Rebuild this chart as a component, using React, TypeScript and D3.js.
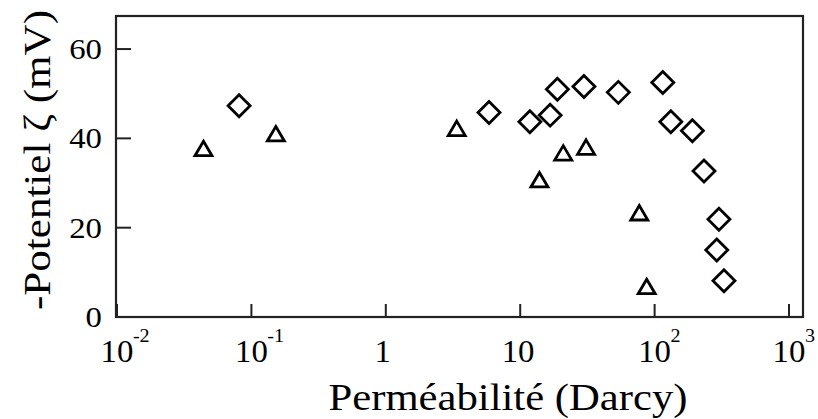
import React from 'react';
import * as d3 from 'd3';

// permeability (Darcy) / -zeta potential (mV)
const triangleX = [0.044, 0.152, 3.37, 13.9, 20.9, 30.9, 76.9, 87.3];
const triangleY = [37.8, 41.1, 42.3, 30.8, 36.8, 38.1, 23.4, 6.9];
const diamondX = [0.081, 5.86, 11.8, 16.7, 18.9, 29.8, 53.7, 115, 132, 191, 233, 290, 301, 328];
const diamondY = [47.3, 45.8, 43.7, 45.2, 51.0, 51.6, 50.3, 52.5, 43.7, 41.7, 32.7, 15.0, 21.9, 8.1];

const xTickExp = [-2, -1, 0, 1, 2, 3];
const yTicks = [0, 20, 40, 60];

const W = 818;
const H = 419;
const font = "'Liberation Serif', 'Times New Roman', Times, serif";

const App: React.FC = () => {
  const x = d3.scaleLog().domain([10 ** -2.0074, 10 ** 3.104]).range([116, 803]);
  const y = d3.scaleLinear().domain([0, 67.4]).range([317, 16]);
  const [x0, x1] = x.range();
  const [y0, y1] = y.range();

  const diamond = 'M0,-11L11,0L0,11L-11,0Z';
  const triangle = 'M0,-7L8.5,7.5L-8.5,7.5Z';

  return (
    <svg width={W} height={H} style={{ position: 'absolute', left: 0, top: 0, background: '#fff', fontFamily: font }}>
      <rect x={x0} y={y1} width={x1 - x0} height={y0 - y1} fill="none" stroke="#222" strokeWidth={2.2} />

      {xTickExp.map(e => {
        const px = x(10 ** e);
        return (
          <g key={e}>
            <line x1={px} x2={px} y1={y0} y2={y0 - 13} stroke="#222" strokeWidth={2} />
            <g transform={`translate(${px},362) scale(1.06,1)`}>
              {e === 0 ? (
                <text x={-3} y={0} fontSize={31} textAnchor="middle">1</text>
              ) : e === 1 ? (
                <text x={-2} y={0} fontSize={31} textAnchor="middle">10</text>
              ) : (
                <g>
                  <text x={0} y={0} fontSize={31} textAnchor="middle">10</text>
                  <text x={15} y={-20} fontSize={19} textAnchor="start">
                    {e < 0 ? `-${-e}` : `${e}`}
                  </text>
                </g>
              )}
            </g>
          </g>
        );
      })}

      {yTicks.map(v => {
        const py = y(v);
        return (
          <g key={v}>
            <line x1={x0} x2={x0 + 15} y1={py} y2={py} stroke="#222" strokeWidth={2} />
            <text transform={`translate(102,${py + 10}) scale(1.13,1)`} fontSize={29} textAnchor="end">{v}</text>
          </g>
        );
      })}

      {triangleX.map((v, i) => (
        <path key={`t${i}`} d={triangle} transform={`translate(${x(v)},${y(triangleY[i])})`}
          fill="none" stroke="#000" strokeWidth={2.8} />
      ))}
      {diamondX.map((v, i) => (
        <path key={`d${i}`} d={diamond} transform={`translate(${x(v)},${y(diamondY[i])})`}
          fill="none" stroke="#000" strokeWidth={2.8} />
      ))}

      <text x={508} y={410} fontSize={37} textAnchor="middle"
        textLength={359} lengthAdjust="spacingAndGlyphs">Perméabilité (Darcy)</text>
      <text transform="translate(50,160) rotate(-90)" fontSize={38} textAnchor="middle"
        textLength={300} lengthAdjust="spacingAndGlyphs">-Potentiel ζ (mV)</text>
    </svg>
  );
};

export default App;
